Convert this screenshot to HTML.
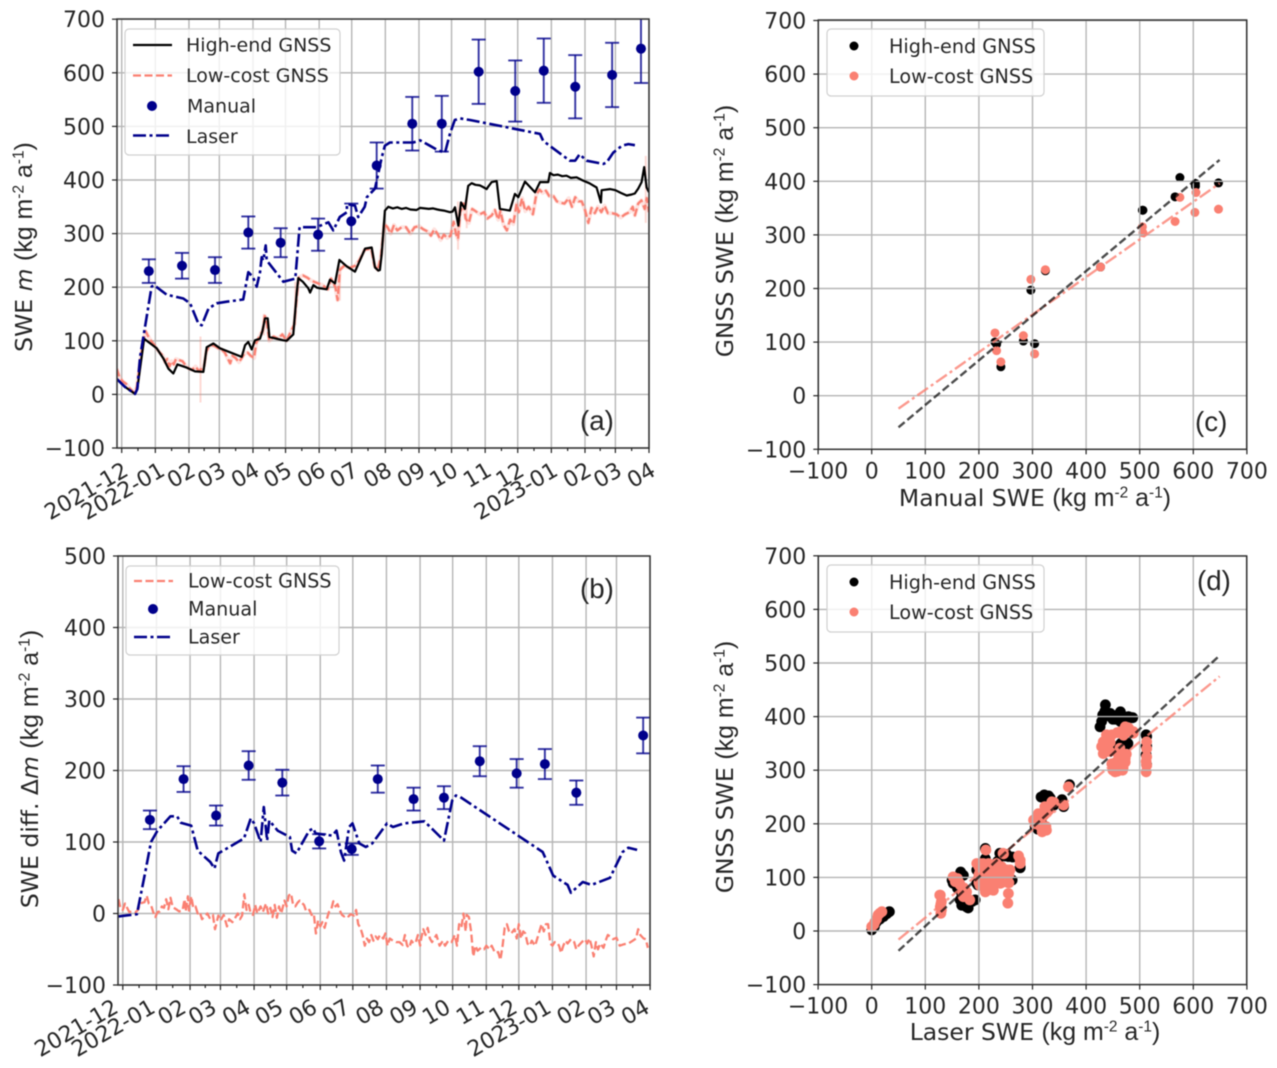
<!DOCTYPE html>
<html lang="en">
<head>
<meta charset="utf-8">
<title>SWE comparison chart</title>
<style>
html,body{margin:0;padding:0;background:#fff;}
svg{display:block;font-family:"DejaVu Sans","Liberation Sans",sans-serif;fill:#262626;filter:blur(0.45px);}
</style>
</head>
<body>
<svg id="chart" width="1277" height="1068" viewBox="0 0 1277 1068" xmlns="http://www.w3.org/2000/svg"></svg>
<script>
// ---------- shared axis data ----------
const monthDays = [0,31,62,90,121,151,182,212,243,274,304,335,365,396,427,455,486];
const monthLabels = ['2021-12','2022-01','02','03','04','05','06','07','08','09','10','11','12','2023-01','02','03','04'];
const minorDays = [15,46,76,105,136,166,197,227,258,289,319,350,380,411,441,470];
const yTicksA = [-100,0,100,200,300,400,500,600,700];
const yTicksB = [-100,0,100,200,300,400,500];
const xyTicks = [-100,0,100,200,300,400,500,600,700];

// ---------- panel (a) ----------
const highDays = [-4.6,3,12.3,14.4,20.6,32.3,38.4,43,47.6,51.3,59.9,67.6,75.3,78.3,84.5,90.6,110.6,113.7,116.7,119.8,122.9,127.5,129.6,132.1,134.6,136.1,149,152,158.2,161.3,162.8,167,172,173.6,176.7,180,182.8,188.9,192,196.6,200.6,207.4,215,224.3,230.4,233.5,236.5,238,239.6,242.6,245.7,250,254,258,262,266,271.8,274.9,279,283,287,291,293.3,297,302.5,305,307.2,310.2,312.7,316.4,319.4,322.5,326,330,333,336.3,338,341,345.6,348.6,357.8,362.4,365.5,371.7,380.9,385.5,393.2,394.7,398,402,406,410,414,419.3,425,431,437.7,441.7,442.3,450,455,460,465.4,470,473,476,479.2,481.6,483.8,486];
const highSwe = [29,14,1,10,104,86,67,48,39,56,50,43,42,88,95,86,70,92,98,84,101,104,117,142,142,107,101,100,112,189,217,210,198,190,204,199,198,196,214,207,251,239,229,272,274,237,231,232,262,343,350,347,349,346,348,345,344,348,347,346,347,345,344,343,340,341,349,315,358,346,389,394,391,390,387,383,388,396,398,346,343,374,368,397,377,396,396,413,409,410,407,408,404,405,399,394,386,358,381,383,381,376,371,373,375,384,396,424,386,377];
const lowDays = [-4.6,-2,1,4,7,10,12,14,17,20,22,24,27,30,32,35,38,40,42,44,46,48,50,53,56,59,62,65,68,71,74,76,78,80,83,86,89,92,95,98,100,102,105,108,110,113,116,119,122,124,127,130,132,134,136,140,144,148,152,156,159,161,163,167,171,175,180,185,190,193,197,199,201,205,210,215,219,224,230,233,236,239,242,245,248,251,254,258,262,266,270,274,278,282,285,288,291,294,297,300,303,306,308,310,312,315,317,320,323,326,330,334,337,341,344,347,349,352,355,358,361,364,366,369,372,375,379,382,385,388,391,394,398,401,404,408,412,415,418,421,424,427,430,433,436,439,442,445,448,452,456,460,464,468,471,473,476,479,482,484,486];
const lowSwe = [48,32,24,20,12,6,3,14,60,100,118,110,100,92,86,78,72,60,66,52,62,56,66,64,62,54,48,46,52,44,48,54,80,88,92,90,86,84,78,66,58,72,68,60,66,76,78,72,68,96,108,120,146,130,100,108,104,112,100,118,130,175,218,222,218,212,208,204,196,216,200,176,232,240,236,240,250,270,272,240,232,258,318,312,300,316,306,312,312,300,312,314,308,304,296,308,300,288,298,292,296,322,300,290,340,356,328,320,346,342,336,340,328,334,344,326,342,316,306,326,318,356,340,366,342,350,336,372,382,376,380,370,370,360,358,356,366,350,368,360,360,344,320,348,338,350,340,352,338,338,336,330,336,340,350,334,356,362,346,366,340];
const spikeDays = [72.6,131,160,201,310,318,483];
const spikeLow = [-15,110,130,175,270,310,320];
const spikeHigh = [108,150,210,240,360,370,445];
const laserDays = [-4.6,3,12.3,14.4,17,23,27.6,29.8,41.5,56.8,63,70.7,73.7,80,87.5,96.8,112,116.7,121,124.4,127.5,129,130.5,132.7,133.6,149,160,164,169,179.7,190.5,195,201,207.6,207.6,215,218,224,226,233.5,239.6,242.6,247.2,268.7,274.9,284,291.8,298,302.5,307,311.8,321,348.6,385.5,388.5,413,418,422,428.5,444,447,453,461,467,473];
const laserSwe = [29,14,1,10,70,145,201,204,186,179,170,132,129,160,170,173,177,228,219,201,228,256,250,278,250,210,216,312,312,312,321,306,331,340,355,352,331,350,368,384,442,464,470,470,474,464,455,451,486,512,515,512,501,486,473,436,436,448,436,430,433,451,464,467,465];
const manualDays = [25,55.6,86,116.7,146.5,181,211.6,235,267.8,295,329,362.7,389,418,452,478.6];
const manualSwe = [230,240,232,302,283,298,323,427,505,505,602,566,604,574,596,645];
const manualErr = [22,24,24,30,27,30,33,43,50,52,60,57,60,59,60,64];

// ---------- panel (b) ----------
const diffLowDays = [-4,-2,0,2,4,6,8,10,12,14,16,18,20,22,24,26,28,30,32,34,36,38,40,42,44,46,48,50,52,55,57,58,60,61,63,65,67,69,71,73,76,78,80,83,85,88,90,93,96,98,101,104,106,108,110,112,114,116,118,120,122,124,127,129,132,134,136,138,140,142,144,146,149,151,153,155,157,159,161,163,165,167,169,172,174,176,178,180,182,184,186,188,190,192,194,196,198,200,202,204,206,208,210,213,215,217,219,221,223,225,227,229,231,233,235,237,240,242,244,246,249,252,255,258,260,262,264,266,268,270,272,274,275,277,279,281,283,285,287,289,292,295,297,300,303,306,308,310,312,314,316,317,319,321,323,325,327,330,333,335,338,340,343,346,348,350,352,354,356,358,361,363,365,367,369,371,373,375,377,380,382,384,386,388,390,392,394,396,398,400,402,404,406,408,410,413,416,418,420,423,426,428,430,432,434,436,438,440,443,445,447,449,452,455,458,462,466,470,473,475,477,480,482,484];
const diffLow = [20,6,5,14,8,2,3,3,2,5,14,15,16,25,14,12,2,-5,2,3,10,8,20,6,22,9,7,5,3,4,20,3,24,4,24,8,10,0,2,-8,-3,0,-6,-2,-22,-3,-10,-2,-18,-8,-12,-5,0,-8,-3,27,5,12,0,-2,12,0,10,2,14,0,8,-5,12,-6,10,0,18,10,25,28,12,10,15,18,15,12,3,5,-2,0,-28,-10,-18,-12,-20,-8,2,5,17,10,13,4,-2,-4,-2,-4,-1,-3,5,-15,-20,-30,-45,-35,-40,-30,-38,-32,-36,-30,-35,-28,-45,-35,-38,-40,-40,-44,-30,-45,-48,-38,-42,-40,-30,-45,-35,-22,-30,-20,-35,-40,-35,-30,-45,-38,-45,-38,-40,-30,-45,-15,-20,0,-25,-2,-5,-25,-60,-45,-52,-48,-50,-45,-50,-45,-55,-54,-65,-45,-20,-15,-25,-28,-22,-35,-15,-35,-25,-28,-42,-45,-38,-45,-35,-25,-15,-25,-15,-15,-42,-45,-40,-40,-45,-55,-45,-38,-42,-36,-40,-50,-45,-40,-36,-42,-35,-45,-60,-40,-50,-42,-48,-38,-30,-32,-36,-34,-45,-43,-42,-38,-35,-22,-30,-35,-36,-48];
const diffLaserDays = [-4,13,20.5,26,32,44,50,53.5,63,69,80.6,84.5,88,96,111.7,118,121,127,130,133,135,142.7,154,156,160,171.8,175.6,177.6,193,197,201,204,208.6,211.7,218,224,230,243.5,249,259,278,288,296,303.6,307,311,387,396.7,410,413,424,432,449,460.6,466,474];
const diffLaser = [-4,-1,56,100,116,136,136,127,123,88,72,63,84,91,105,133,126,100,149,102,130,116,107,88,84,116,119,112,109,116,86,74,121,126,98,93,98,126,121,126,129,114,102,158,165,163,86,53,40,29,44,40,50,86,92,89];
const diffManualDays = [25,56,86,116,147,181,211,235,268,296,329,363,389,418,479.6];
const diffManual = [131,188,137,207,183,101,90,188,160,162,213,196,209,169,249];
const diffManualErr = [13,18,14,20,18,10,8,19,16,16,21,20,21,17,25];

// ---------- panel (c) ----------
const cHighX = [230,233,241,283,304,297,324,427,505,506,566,575,604,604,647];
const cHighY = [100,96,54,102,97,197,233,240,346,346,371,407,396,391,397];
const cLowX = [230,233,241,283,304,297,324,427,505,506,566,575,605,603,647];
const cLowY = [117,84,63,112,78,217,235,240,315,304,325,370,379,342,348];
const cFitHighX = [50,649];
const cFitHighY = [-59,440];
const cFitLowX = [50,649];
const cFitLowY = [-24,396];

// ---------- panel (d) ----------
const dHighX = [0,5,9,15,22,28,33,150,152,160,165,171,177,187,180,168,196,196,200,212,212,205,240,248,255,263,271,277,235,262,305,310,322,328,333,318,340,355,358,369,436,429,431,445,450,464,479,487,464,456,470,454,476,465,513,513,512,513,180,193,168,166,198,239,252,277,512,512,426,435,463,485,445,455,470,478,316,330];
const dHighY = [2,8,17,22,27,32,36,95,89,80,58,104,45,55,48,70,114,89,100,154,135,95,144,140,139,138,138,120,130,95,195,190,254,245,248,200,235,245,232,273,422,391,403,406,395,409,400,398,391,402,385,344,347,350,363,345,329,310,43,58,48,110,86,145,143,118,345,366,381,410,406,398,400,395,400,350,250,252];
const dLowX = [0,6,12,19,4,9,15,128,128,129,130,152,156,165,172,177,171,160,202,202,202,202,212,227,240,252,255,255,254,218,233,246,274,277,210,220,230,240,215,228,302,311,323,336,326,317,358,367,305,315,432,429,435,448,464,479,488,467,473,451,448,464,440,442,475,460,455,513,513,513,512,513,200,214,228,242,256,200,214,228,242,256,200,214,228,242,213,208,196,258,221,204,245,277,164,170,183,127,130,129,310,320,330,340,325,318,438,445,458,470,473,488,432,432,444,457,454,469,473,463,450,460,470,458,468,450,512];
const dLowY = [8,17,30,36,12,22,33,67,45,33,55,101,92,86,80,73,64,98,126,110,100,85,73,76,89,114,90,70,52,126,126,144,140,132,110,100,95,110,85,115,207,219,232,241,188,212,235,269,200,195,353,344,334,366,372,379,372,322,315,300,312,306,350,365,330,330,298,353,325,309,297,340,90,90,90,90,90,105,105,105,105,105,120,120,120,120,151,126,126,114,77,89,145,126,89,71,58,67,39,50,205,215,225,240,195,185,366,352,370,365,381,369,347,331,335,316,297,304,322,341,300,310,312,298,300,312,316];
const dFitHighX = [50,647];
const dFitHighY = [-37,512];
const dFitLowX = [50,649];
const dFitLowY = [-16,475];

// ---------- axis functions ----------
const xTimeA = d => 121.7 + d * 1.085;
const yA = v => 394.4 - v * 0.536;
const xTimeB = d => 122.8 + d * 1.085;
const yB = v => 913.5 - v * 0.715;
const xXY = v => 871.7 + v * 0.536;
const yC = v => 395.7 - v * 0.536;
const yD = v => 931 - v * 0.536;

const NS = 'http://www.w3.org/2000/svg';
const root = document.getElementById('chart');
const BLUE = '#00008b', SALMON = '#fa8072', GRID = '#b5b5b5', SPINE = '#333';

function el(tag, parent, name, attrs, interact) {
  const e = document.createElementNS(NS, tag);
  
  
  for (const k in attrs) e.setAttribute(k, attrs[k]);
  parent.appendChild(e);
  return e;
}
function txt(parent, name, s, x, y, size, anchor, extra) {
  const t = el('text', parent, name, Object.assign({x: x, y: y, 'font-size': size, 'text-anchor': anchor || 'start'}, extra || {}));
  t.textContent = s;
  return t;
}
function fmt(v) { return v < 0 ? '\u2212' + Math.abs(v) : String(v); }
function linePath(xs, ys, fx, fy) {
  return xs.map((x, i) => (i ? 'L' : 'M') + fx(x).toFixed(1) + ' ' + fy(ys[i]).toFixed(1)).join('');
}

const defs = document.createElementNS(NS, 'defs');
root.appendChild(defs);
function clip(id, b) {
  const c = document.createElementNS(NS, 'clipPath');
  c.setAttribute('id', id);
  const r = document.createElementNS(NS, 'rect');
  r.setAttribute('x', b.l); r.setAttribute('y', b.t);
  r.setAttribute('width', b.r - b.l); r.setAttribute('height', b.b - b.t);
  c.appendChild(r); defs.appendChild(c);
}

function frame(g, b, xTicks, fx, yTicks, fy) {
  const grid = el('g', g, 'grid-lines', {stroke: GRID, 'stroke-width': 1.4, fill: 'none'});
  xTicks.forEach(t => el('line', grid, 'vertical-gridline', {x1: fx(t), x2: fx(t), y1: b.t, y2: b.b}));
  yTicks.forEach(t => el('line', grid, 'horizontal-gridline', {x1: b.l, x2: b.r, y1: fy(t), y2: fy(t)}));
}
function axes(g, b, xTicks, fx, yTicks, fy, xLabels, minor, labelShift) {
  el('rect', g, 'axes-frame', {x: b.l, y: b.t, width: b.r - b.l, height: b.b - b.t, fill: 'none', stroke: SPINE, 'stroke-width': 1.5});
  const tk = el('g', g, 'tick-marks', {stroke: '#222', 'stroke-width': 1.2});
  xTicks.forEach(t => el('line', tk, 'x-tick', {x1: fx(t), x2: fx(t), y1: b.b, y2: b.b + 5}));
  (minor || []).forEach(t => el('line', tk, 'x-minor-tick', {x1: fx(t), x2: fx(t), y1: b.b, y2: b.b + 3}));
  yTicks.forEach(t => el('line', tk, 'y-tick', {x1: b.l - 5, x2: b.l, y1: fy(t), y2: fy(t)}));
  yTicks.forEach(t => txt(g, 'y-tick-label', fmt(t), b.l - 12, fy(t) + 8, 22, 'end'));
  if (xLabels) {
    xTicks.forEach((t, i) => {
      const x = fx(t) + labelShift(t), y = b.b + 26.5;
      txt(g, 'x-tick-label', xLabels[i], x, y, 22, 'end', {transform: 'rotate(-30 ' + x + ' ' + y + ')'});
    });
  } else {
    xTicks.forEach(t => txt(g, 'x-tick-label', fmt(t), fx(t), b.b + 29, 22, 'middle'));
  }
}
function errPoints(g, days, vals, errs, fx, fy, clipId) {
  const eg = el('g', g, 'manual-series', {'clip-path': 'url(#' + clipId + ')'});
  days.forEach((d, i) => {
    const x = fx(d), y = fy(vals[i]), up = fy(vals[i] + errs[i]), lo = fy(vals[i] - errs[i]);
    const stroke = {stroke: BLUE, 'stroke-width': 1.9, 'stroke-opacity': 0.8};
    el('line', eg, 'manual-error-bar', Object.assign({x1: x, x2: x, y1: up, y2: lo}, stroke));
    el('line', eg, 'manual-error-cap', Object.assign({x1: x - 7, x2: x + 7, y1: up, y2: up}, stroke));
    el('line', eg, 'manual-error-cap', Object.assign({x1: x - 7, x2: x + 7, y1: lo, y2: lo}, stroke));
    el('circle', eg, 'manual-point', {cx: x, cy: y, r: 5, fill: BLUE});
  });
}
function legendBox(g, x, y, w, h) {
  return el('rect', g, 'legend-box', {x: x, y: y, width: w, height: h, rx: 4, fill: '#fff', 'fill-opacity': 0.8, stroke: '#d0d0d0', 'stroke-width': 1.2});
}
function appendParts(t, parts, size) {
  const unit = size * 1.06;
  parts.forEach(p => {
    const s = document.createElementNS(NS, 'tspan');
    s.textContent = p.t;
    if (p.i) s.setAttribute('font-style', 'italic');
    if (p.f) { s.setAttribute('font-family', '"Liberation Sans",sans-serif'); s.setAttribute('font-size', unit); }
    if (p.sup) { s.setAttribute('font-size', unit * 0.62); s.setAttribute('dy', -size * 0.36); }
    if (p.dn) s.setAttribute('dy', size * 0.36);
    t.appendChild(s);
  });
}
function ylabel(g, name, cx, cy, parts, size) {
  const t = el('text', g, name, {transform: 'rotate(-90 ' + cx + ' ' + cy + ')', x: cx, y: cy, 'text-anchor': 'middle', 'font-size': size});
  appendParts(t, parts, size);
  return t;
}
function unitParts(lead) {
  return lead.concat([
    {t: '(kg m', f: 1}, {t: '-2', sup: 1, f: 1}, {t: ' a', dn: 1, f: 1}, {t: '-1', sup: 1, f: 1}, {t: ')', dn: 1, f: 1}
  ]);
}
const dashLow = '8 3.5', dashLaser = '13 3.5 3 3.5';
const LETTER_FONT = {'font-family': '"Liberation Sans",sans-serif'};

// ---------- panel a ----------
(function () {
  const b = {l: 117, r: 649, t: 19, b: 448};
  clip('clipA', b);
  const g = el('g', root, 'panel-a-swe-timeseries', {});
  frame(g, b, monthDays, xTimeA, yTicksA, yA);
  const s = el('g', g, 'series-lines', {'clip-path': 'url(#clipA)', fill: 'none', 'stroke-linejoin': 'round'});
  spikeDays.forEach((d, i) => el('line', s, 'low-cost-uncertainty', {x1: xTimeA(d), x2: xTimeA(d), y1: yA(spikeLow[i]), y2: yA(spikeHigh[i]), stroke: SALMON, 'stroke-opacity': 0.3, 'stroke-width': 2}));
  el('path', s, 'low-cost-uncertainty-band', {d: linePath(lowDays, lowSwe, xTimeA, yA), stroke: SALMON, 'stroke-opacity': 0.22, 'stroke-width': 4});
  el('path', s, 'low-cost-gnss-line', {d: linePath(lowDays, lowSwe, xTimeA, yA), stroke: SALMON, 'stroke-width': 2.3, 'stroke-dasharray': dashLow});
  el('path', s, 'high-end-gnss-line', {d: linePath(highDays, highSwe, xTimeA, yA), stroke: '#000', 'stroke-width': 2.2});
  el('path', s, 'laser-line', {d: linePath(laserDays, laserSwe, xTimeA, yA), stroke: BLUE, 'stroke-width': 2.6, 'stroke-dasharray': dashLaser});
  errPoints(g, manualDays, manualSwe, manualErr, xTimeA, yA, 'clipA');
  axes(g, b, monthDays, xTimeA, yTicksA, yA, monthLabels, minorDays, t => 8 + (t === 31 ? 3 : 0));
  const lg = el('g', g, 'legend', {});
  legendBox(lg, 125, 29, 215, 126);
  el('line', lg, 'legend-high-end-sample', {x1: 133, x2: 172, y1: 45, y2: 45, stroke: '#000', 'stroke-width': 2.2});
  el('line', lg, 'legend-low-cost-sample', {x1: 133, x2: 172, y1: 75.5, y2: 75.5, stroke: SALMON, 'stroke-width': 2.2, 'stroke-dasharray': dashLow});
  el('circle', lg, 'legend-manual-sample', {cx: 152, cy: 106, r: 5, fill: BLUE});
  el('line', lg, 'legend-laser-sample', {x1: 133, x2: 172, y1: 135.5, y2: 135.5, stroke: BLUE, 'stroke-width': 2.4, 'stroke-dasharray': dashLaser});
  txt(lg, 'legend-high-end-label', 'High-end GNSS', 186, 51.5, 19);
  txt(lg, 'legend-low-cost-label', 'Low-cost GNSS', 186, 82, 19);
  txt(lg, 'legend-manual-label', 'Manual', 187, 112.5, 19);
  txt(lg, 'legend-laser-label', 'Laser', 186, 143, 19);
  txt(g, 'panel-label-a', '(a)', 580, 430, 27.7, 'start', LETTER_FONT);
  ylabel(g, 'y-axis-title-a', 32, 247, unitParts([{t: 'SWE '}, {t: 'm', i: 1}, {t: ' '}]), 23.5);
})();

// ---------- panel b ----------
(function () {
  const b = {l: 118, r: 650, t: 556, b: 985};
  clip('clipB', b);
  const g = el('g', root, 'panel-b-swe-difference', {});
  frame(g, b, monthDays, xTimeB, yTicksB, yB);
  const s = el('g', g, 'series-lines', {'clip-path': 'url(#clipB)', fill: 'none', 'stroke-linejoin': 'round'});
  el('path', s, 'low-cost-gnss-diff-line', {d: linePath(diffLowDays, diffLow, xTimeB, yB), stroke: SALMON, 'stroke-width': 2.3, 'stroke-dasharray': dashLow});
  el('path', s, 'laser-diff-line', {d: linePath(diffLaserDays, diffLaser, xTimeB, yB), stroke: BLUE, 'stroke-width': 2.6, 'stroke-dasharray': dashLaser});
  errPoints(g, diffManualDays, diffManual, diffManualErr, xTimeB, yB, 'clipB');
  axes(g, b, monthDays, xTimeB, yTicksB, yB, monthLabels, minorDays, t => -3 + 4 * t / 486 + (t === 31 ? 3 : 0));
  const lg = el('g', g, 'legend', {});
  legendBox(lg, 126, 566, 213, 89);
  el('line', lg, 'legend-low-cost-sample', {x1: 134, x2: 173, y1: 581, y2: 581, stroke: SALMON, 'stroke-width': 2.2, 'stroke-dasharray': dashLow});
  el('circle', lg, 'legend-manual-sample', {cx: 153, cy: 609, r: 5, fill: BLUE});
  el('line', lg, 'legend-laser-sample', {x1: 134, x2: 173, y1: 637, y2: 637, stroke: BLUE, 'stroke-width': 2.4, 'stroke-dasharray': dashLaser});
  txt(lg, 'legend-low-cost-label', 'Low-cost GNSS', 188, 587.5, 19.1);
  txt(lg, 'legend-manual-label', 'Manual', 188, 615.5, 19.1);
  txt(lg, 'legend-laser-label', 'Laser', 188, 643.5, 19.1);
  txt(g, 'panel-label-b', '(b)', 580, 598, 27.7, 'start', LETTER_FONT);
  ylabel(g, 'y-axis-title-b', 38, 769, unitParts([{t: 'SWE diff. \u0394'}, {t: 'm', i: 1}, {t: '  '}]), 23.5);
})();

function scatterPanel(name, b, fy, clipId, hx, hy, lx, ly, fhx, fhy, flx, fly, r, xTitle, letter, letterX, letterY, titleY, lgY, yName, yCy) {
  clip(clipId, b);
  const g = el('g', root, name, {});
  const s = el('g', g, 'scatter-points', {'clip-path': 'url(#' + clipId + ')'});
  hx.forEach((x, i) => el('circle', s, 'high-end-point', {cx: xXY(x), cy: fy(hy[i]), r: r, fill: '#000'}));
  lx.forEach((x, i) => el('circle', s, 'low-cost-point', {cx: xXY(x), cy: fy(ly[i]), r: r, fill: SALMON}));
  frame(g, b, xyTicks, xXY, xyTicks, fy);
  const f = el('g', g, 'fit-lines', {'clip-path': 'url(#' + clipId + ')', fill: 'none'});
  el('path', f, 'low-cost-fit-line', {d: linePath(flx, fly, xXY, fy), stroke: SALMON, 'stroke-opacity': 0.8, 'stroke-width': 2.4, 'stroke-dasharray': '13 3.5 3 3.5'});
  el('path', f, 'high-end-fit-line', {d: linePath(fhx, fhy, xXY, fy), stroke: '#000', 'stroke-opacity': 0.7, 'stroke-width': 2.4, 'stroke-dasharray': '8 3.5'});
  axes(g, b, xyTicks, xXY, xyTicks, fy, null, null);
  const lg = el('g', g, 'legend', {});
  legendBox(lg, 827, lgY, 217, 67);
  el('circle', lg, 'legend-high-end-sample', {cx: 854, cy: lgY + 17, r: 4.5, fill: '#000'});
  el('circle', lg, 'legend-low-cost-sample', {cx: 854, cy: lgY + 47, r: 4.5, fill: SALMON});
  txt(lg, 'legend-high-end-label', 'High-end GNSS', 889, lgY + 24, 19.2);
  txt(lg, 'legend-low-cost-label', 'Low-cost GNSS', 889, lgY + 54, 19.2);
  txt(g, 'panel-label-' + letter, '(' + letter + ')', letterX, letterY, 27.7, 'start', LETTER_FONT);
  const t = el('text', g, 'x-axis-title-' + letter, {x: 1035, y: titleY, 'text-anchor': 'middle', 'font-size': 23.5});
  appendParts(t, unitParts([{t: xTitle + ' '}]), 23.5);
  ylabel(g, yName, 733, yCy, unitParts([{t: 'GNSS SWE '}]), 23.5);
}
scatterPanel('panel-c-manual-scatter', {l: 818.3, r: 1246.7, t: 20, b: 449.3}, yC, 'clipC', cHighX, cHighY, cLowX, cLowY, cFitHighX, cFitHighY, cFitLowX, cFitLowY, 4.5, 'Manual SWE', 'c', 1195, 431, 506, 29, 'y-axis-title-c', 231);
scatterPanel('panel-d-laser-scatter', {l: 818.3, r: 1246.7, t: 556, b: 984.6}, yD, 'clipD', dHighX, dHighY, dLowX, dLowY, dFitHighX, dFitHighY, dFitLowX, dFitLowY, 5.4, 'Laser SWE', 'd', 1197, 590, 1040, 565, 'y-axis-title-d', 767);
</script>
</body>
</html>
